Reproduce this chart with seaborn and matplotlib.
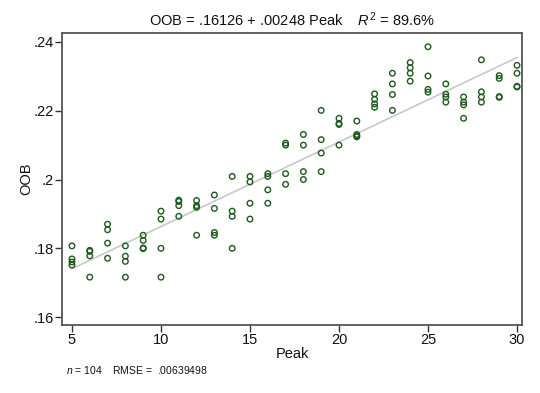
import numpy as np
import pandas as pd
import matplotlib
matplotlib.use("Agg")
import matplotlib.pyplot as plt
import seaborn as sns

peak = [5]*4 + [6]*4 + [7]*4 + [8]*4 + [9]*4 + [10]*4 + [11]*4 + [12]*4 + \
       [13]*4 + [14]*4 + [15]*4 + [16]*4 + [17]*4 + [18]*4 + [19]*4 + [20]*4 + \
       [21]*4 + [22]*4 + [23]*4 + [24]*4 + [25]*4 + [26]*4 + [27]*4 + [28]*4 + \
       [29]*4 + [30]*4
oob = [
    .1807, .1769, .1760, .1751,   # 5
    .1794, .1791, .1778, .1716,   # 6
    .1870, .1854, .1815, .1771,   # 7
    .1807, .1777, .1762, .1716,   # 8
    .1838, .1823, .1801, .1799,   # 9
    .1908, .1885, .1800, .1716,   # 10
    .1940, .1936, .1924, .1893,   # 11
    .1939, .1924, .1919, .1838,   # 12
    .1955, .1916, .1846, .1838,   # 13
    .2009, .1908, .1893, .1800,   # 14
    .2009, .1993, .1931, .1885,   # 15
    .2017, .2009, .1970, .1931,   # 16
    .2106, .2100, .2017, .1986,   # 17
    .2131, .2100, .2023, .2000,   # 18
    .2201, .2116, .2077, .2023,   # 19
    .2178, .2163, .2160, .2100,   # 20
    .2170, .2131, .2127, .2124,   # 21
    .2249, .2233, .2220, .2210,   # 22
    .2309, .2278, .2247, .2201,   # 23
    .2340, .2325, .2309, .2286,   # 24
    .2386, .2301, .2262, .2254,   # 25
    .2278, .2248, .2240, .2225,   # 26
    .2240, .2225, .2217, .2178,   # 27
    .2348, .2255, .2240, .2225,   # 28
    .2302, .2294, .2241, .2239,   # 29
    .2332, .2309, .2271, .2269,   # 30
]
x_ticks = [5, 10, 15, 20, 25, 30]
y_ticks = [.16, .18, .20, .22, .24]
y_tick_labels = [".16", ".18", ".2", ".22", ".24"]
title_text = r"OOB = .16126 + .00248 Peak    $R^2$ = 89.6%"
note_text = r"$n$ = 104    RMSE =  .00639498"

df = pd.DataFrame({"Peak": peak, "OOB": oob})

sns.set_theme(style="white")
plt.rcParams["font.family"] = ["Liberation Sans", "DejaVu Sans"]
plt.rcParams["mathtext.fontset"] = "custom"
plt.rcParams["mathtext.rm"] = "Liberation Sans"
plt.rcParams["mathtext.it"] = "Liberation Sans:italic"

fig = plt.figure(figsize=(5.4, 3.93), dpi=100)
ax = fig.add_axes([62/540, 1-325/393, (522-62)/540, (325-33)/393])

sns.regplot(data=df, x="Peak", y="OOB", ax=ax, scatter=False, ci=None,
            line_kws=dict(color="#c8c8c8", lw=1.2, zorder=1))
sns.scatterplot(data=df, x="Peak", y="OOB", ax=ax, marker="o", s=16,
                facecolor="none", edgecolor="#1d5a1d", linewidth=1.0, zorder=2)

ax.set_xlim(4.44, 30.28)
ax.set_ylim(.1577, .2426)
ax.set_xticks(x_ticks)
ax.set_xticklabels([str(v) for v in x_ticks])
ax.set_yticks(y_ticks)
ax.set_yticklabels(y_tick_labels)
ax.tick_params(axis="both", direction="out", length=5, width=1, color="#333333",
               labelsize=10.5, labelcolor="#111111", pad=1,
               bottom=True, left=True)
for s in ax.spines.values():
    s.set_color("#555555")
    s.set_linewidth(1.3)
ax.set_xlabel("Peak", fontsize=10.5, color="#111111", labelpad=0)
ax.set_ylabel("OOB", fontsize=10.5, color="#111111")
ax.yaxis.set_label_coords(-0.062, 0.5)
ax.set_title(title_text, fontsize=10.5, color="#111111", pad=5)
fig.text(66/540, 1-370/393, note_text, fontsize=7.5, color="#111111", va="center")

fig.savefig("out.png", dpi=100)
